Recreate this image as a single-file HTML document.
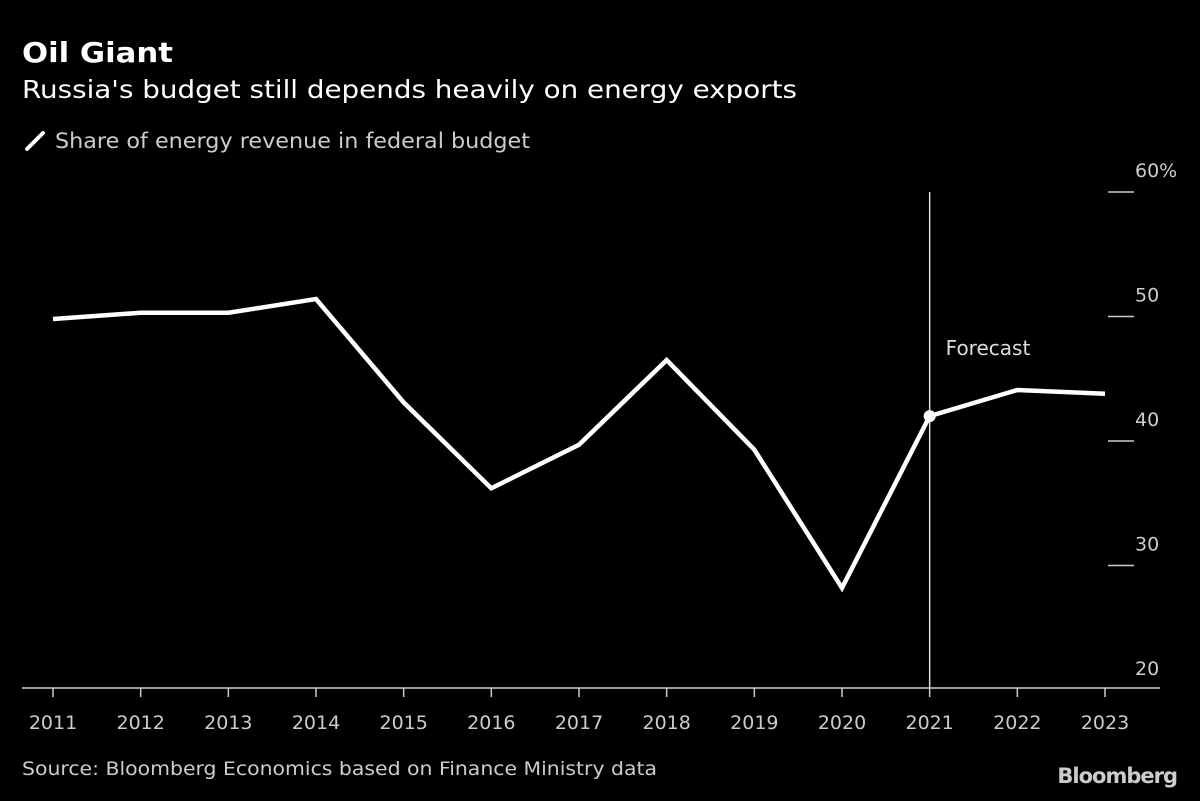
<!DOCTYPE html>
<html><head><meta charset="utf-8"><style>
body{margin:0;background:#000;width:1200px;height:797px;overflow:hidden;font-family:"DejaVu Sans",sans-serif;color:#fff}
svg text{font-family:"DejaVu Sans",sans-serif}
</style></head><body>
<svg width="1200" height="797">
<text x="22" y="62" font-size="28" font-weight="bold" fill="#fff" textLength="151" lengthAdjust="spacingAndGlyphs">Oil Giant</text>
<text x="22" y="98" font-size="25" fill="#fff" textLength="775" lengthAdjust="spacingAndGlyphs">Russia's budget still depends heavily on energy exports</text>
<g>
<line x1="27" y1="149" x2="43" y2="133" stroke="#fff" stroke-width="4" stroke-linecap="round"/>
<text x="55" y="148" font-size="21" fill="#ccc" textLength="475" lengthAdjust="spacingAndGlyphs">Share of energy revenue in federal budget</text>
</g>
<g id="axes"></g>
<g id="plot"></g>
<text x="22" y="775" font-size="19" fill="#ccc" textLength="635" lengthAdjust="spacingAndGlyphs">Source: Bloomberg Economics based on Finance Ministry data</text>
<text x="1177" y="783" font-size="21" font-weight="bold" fill="#ccc" text-anchor="end" letter-spacing="-1">Bloomberg</text>
</svg>
<script>
const years=[2011,2012,2013,2014,2015,2016,2017,2018,2019,2020,2021,2022,2023];
const shares=[49.8,50.3,50.3,51.4,43.1,36.2,39.7,46.5,39.3,28.2,42.0,44.1,43.8];
const yTicks=[20,30,40,50,60];
const yTickLabels=["20","30","40","50","60%"];
const forecastYear=2021;
const NS="http://www.w3.org/2000/svg";
const X=y=>53+(y-2011)*(1105-53)/12;
const Y=v=>690-(v-20)*(690-192)/40;
function mk(t,a,p){const e=document.createElementNS(NS,t);for(const k in a)e.setAttribute(k,a[k]);p.appendChild(e);return e;}
const ax=document.getElementById('axes'),pl=document.getElementById('plot');
const base=mk('line',{x1:22,y1:688,x2:1160,y2:688,stroke:'#ccc','stroke-width':1.5},ax);


years.forEach(y=>{
 const t=mk('line',{x1:X(y),y1:688,x2:X(y),y2:697,stroke:'#ccc','stroke-width':1.5},ax);
 
 
 const l=mk('text',{x:X(y),y:729,'font-size':19,fill:'#ccc','text-anchor':'middle'},ax);l.textContent=y;
 
 
});
yTicks.forEach((v,i)=>{
 if(v>20){const t=mk('line',{x1:1108,y1:Y(v),x2:1134,y2:Y(v),stroke:'#ccc','stroke-width':1.5},ax);
 
 }
 const l=mk('text',{x:1135,y:Y(v)-15,'font-size':19,fill:'#ccc'},ax);l.textContent=yTickLabels[i];
 
 
});
const fl=mk('line',{x1:X(forecastYear),y1:192,x2:X(forecastYear),y2:688,stroke:'#ddd','stroke-width':1.5},pl);


const ft=mk('text',{x:X(forecastYear)+16,y:355,'font-size':20,fill:'#ddd'},pl);ft.textContent='Forecast';


const ln=mk('polyline',{points:years.map((y,i)=>X(y)+','+Y(shares[i])).join(' '),fill:'none',stroke:'#fff','stroke-width':4.5,'stroke-linejoin':'miter'},pl);


const fi=years.indexOf(forecastYear);
const d=mk('circle',{cx:X(forecastYear),cy:Y(shares[fi]),r:6,fill:'#fff'},pl);


</script>
</body></html>
